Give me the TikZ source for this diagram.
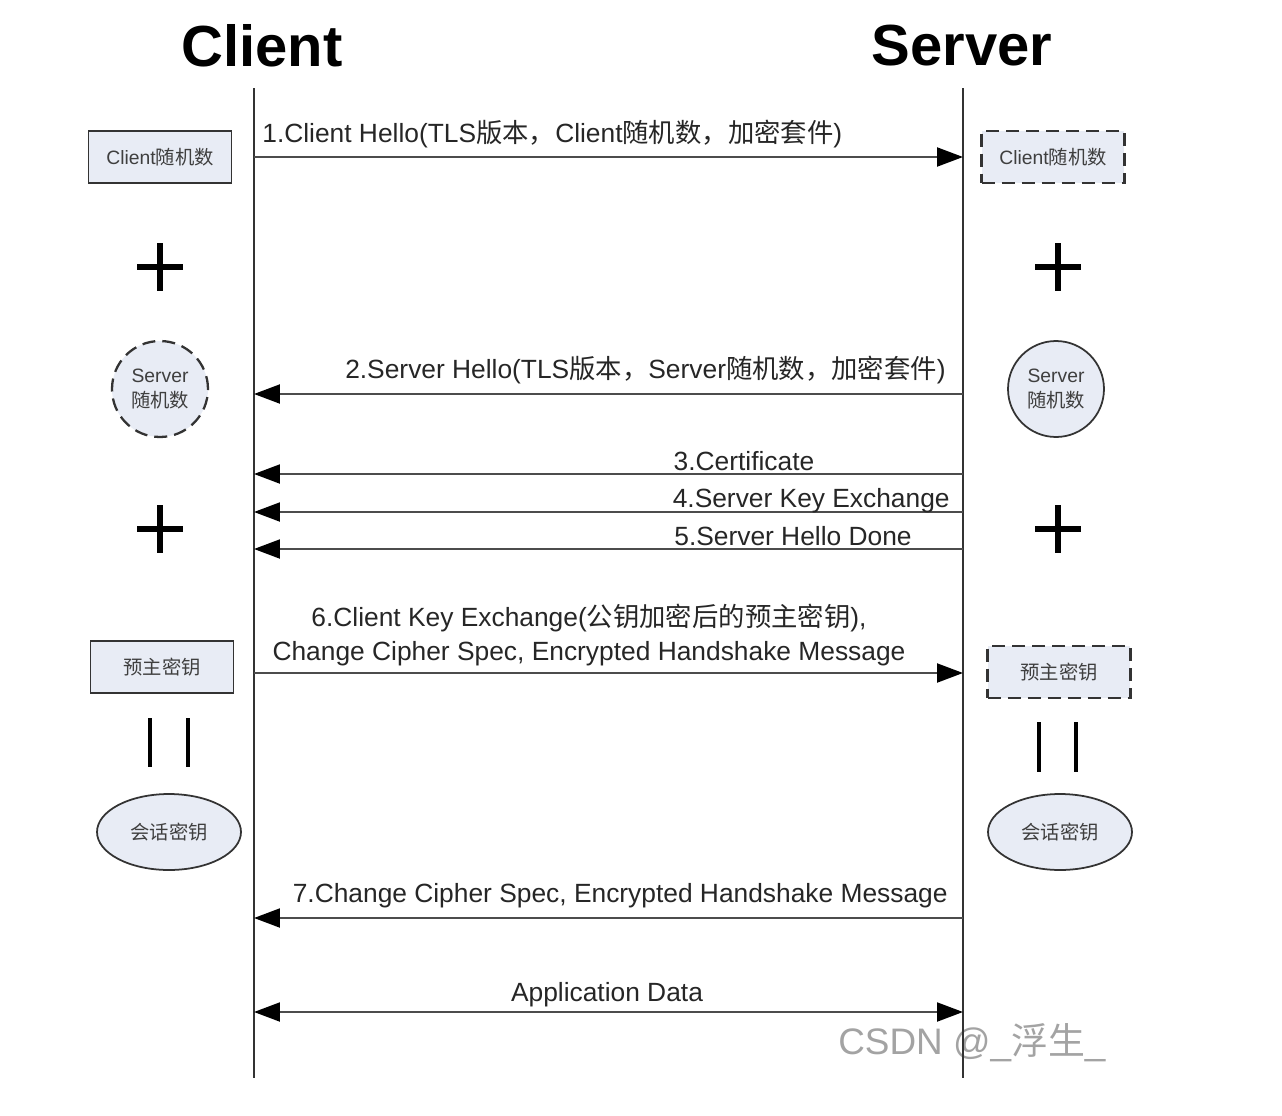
\documentclass[tikz,border=0pt]{standalone}
\usepackage{fontspec}
\setmainfont{Liberation Sans}
\newfontfamily\cjk{Noto Sans CJK SC}
\usetikzlibrary{arrows.meta,shapes.geometric}

\definecolor{keyfill}{HTML}{E8ECF5}
\definecolor{keytext}{HTML}{3F3F3F}
\definecolor{marktext}{HTML}{A3A3A3}
\newcommand{\zh}[1]{{\cjk #1}}

\tikzset{
  lifeline/.style={line width=1.1pt, black!80},
  msg/.style={line width=1.2pt, black!70, -{Triangle[length=0.52cm,width=0.38cm,black]}},
  msgboth/.style={msg, {Triangle[length=0.52cm,width=0.38cm,black]}-{Triangle[length=0.52cm,width=0.38cm,black]}},
  msglabel/.style={inner sep=0pt, text=black!85, font=\fontsize{15}{19}\selectfont},
  keybox/.style={draw=black!80, line width=1pt, fill=keyfill, text=keytext,
    minimum width=2.86cm, minimum height=1.04cm, font=\fontsize{11}{13}\selectfont},
  keydash/.style={keybox, dash pattern=on 7.4pt off 4pt, line width=1.3pt},
  keycircle/.style={keybox, circle, minimum size=1.92cm, minimum width=1.92cm, align=center,
    font=\fontsize{11}{14}\selectfont},
  keyoval/.style={keybox, ellipse, minimum width=2.88cm, minimum height=1.52cm},
  plusmark/.style={line width=2.9pt},
  barmark/.style={line width=2.4pt}
}

\begin{document}
\begin{tikzpicture}[x=0.02cm, y=-0.02cm]
\useasboundingbox (0,0) rectangle (1282,1116);

% titles
\node[font=\fontsize{33}{36}\selectfont\bfseries] (ctitle) at (262,46) {Client};
\node[font=\fontsize{33}{36}\selectfont\bfseries] (stitle) at (962,46) {Server};

% watermark under the server line
\node[text=marktext, font=\fontsize{21}{24}\selectfont, anchor=west, inner sep=0pt] (mark) at (838,1043) {CSDN @\_\zh{浮生}\_};

% lifelines
\coordinate (ctop) at (254,88);
\coordinate (cbot) at (254,1078);
\coordinate (stop) at (963,88);
\coordinate (sbot) at (963,1078);
\draw[lifeline] (ctop) -- (cbot);
\draw[lifeline] (stop) -- (sbot);

% message points on the lifelines
\coordinate (c1) at (254,157);  \coordinate (s1) at (963,157);
\coordinate (c2) at (254,394);  \coordinate (s2) at (963,394);
\coordinate (c3) at (254,474);  \coordinate (s3) at (963,474);
\coordinate (c4) at (254,512);  \coordinate (s4) at (963,512);
\coordinate (c5) at (254,549);  \coordinate (s5) at (963,549);
\coordinate (c6) at (254,673);  \coordinate (s6) at (963,673);
\coordinate (c7) at (254,918);  \coordinate (s7) at (963,918);
\coordinate (c8) at (254,1012); \coordinate (s8) at (963,1012);

\draw[msg] (c1) -- (s1);
\draw[msg] (s2) -- (c2);
\draw[msg] (s3) -- (c3);
\draw[msg] (s4) -- (c4);
\draw[msg] (s5) -- (c5);
\draw[msg] (c6) -- (s6);
\draw[msg] (s7) -- (c7);
\draw[msgboth] (c8) -- (s8);

\node[msglabel, anchor=west] (m1) at (262,134) {1.Client Hello(TLS\zh{版本，}Client\zh{随机数，加密套件})};
\node[msglabel, anchor=east] (m2) at (946,370) {2.Server Hello(TLS\zh{版本，}Server\zh{随机数，加密套件})};
\node[msglabel] (m3) at (744,461) {3.Certificate};
\node[msglabel, anchor=east] (m4) at (950,501) {4.Server Key Exchange};
\node[msglabel, anchor=west] (m5) at (674,536) {5.Server Hello Done};
\node[msglabel, align=center] (m6) at (589,635) {6.Client Key Exchange(\zh{公钥加密后的预主密钥}),\\[0pt]Change Cipher Spec, Encrypted Handshake Message};
\node[msglabel, anchor=east] (m7) at (948,896) {7.Change Cipher Spec, Encrypted Handshake Message};
\node[msglabel] (m8) at (607,995) {Application Data};

% client side
\node[keybox] (crand) at (160,157) {Client\zh{随机数}};
\draw[plusmark] (137,267) -- (183,267) (160,243) -- (160,291);
\node[keycircle, dash pattern=on 7.4pt off 4pt, line width=1.3pt] (srand) at (160,389) {Server\\\zh{随机数}};
\draw[plusmark] (137,529) -- (183,529) (160,505) -- (160,553);
\node[keybox] (cpre) at (162,667) {\zh{预主密钥}};
\draw[barmark] (150,718) -- (150,767) (188,718) -- (188,767);
\node[keyoval] (csess) at (169,832) {\zh{会话密钥}};

% server side
\node[keydash] (crand2) at (1053,157) {Client\zh{随机数}};
\draw[plusmark] (1035,267) -- (1081,267) (1058,243) -- (1058,291);
\node[keycircle] (srand2) at (1056,389) {Server\\\zh{随机数}};
\draw[plusmark] (1035,529) -- (1081,529) (1058,505) -- (1058,553);
\node[keydash] (spre) at (1059,672) {\zh{预主密钥}};
\draw[barmark] (1039,722) -- (1039,772) (1076,722) -- (1076,772);
\node[keyoval] (ssess) at (1060,832) {\zh{会话密钥}};
\end{tikzpicture}
\end{document}
